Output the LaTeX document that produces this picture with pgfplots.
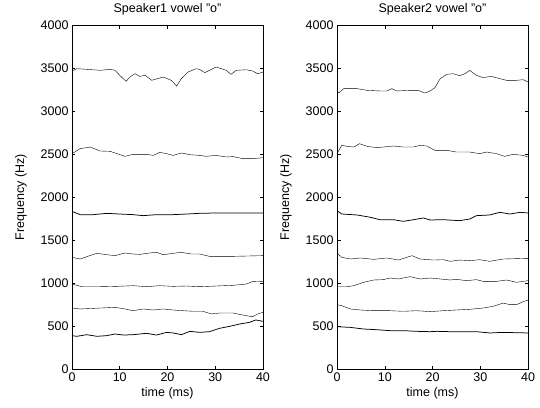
\documentclass[border=0pt]{standalone}
\usepackage{pgfplots}
\pgfplotsset{compat=1.18}
\usepackage{fontspec}
\setmainfont{Liberation Sans}

\pgfplotsset{
  formant/.style={
    scale only axis, width=191pt, height=344pt,
    xmin=0, xmax=40, ymin=0, ymax=4000,
    xtick={0,10,20,30,40}, ytick={0,500,...,4000},
    tick align=inside, major tick length=3.5pt,
    tick style={black, line width=0.5pt},
    axis line style={line width=0.7pt},
    /pgf/number format/assume math mode=true,
    /pgf/number format/set thousands separator={},
    tick label style={font=\fontsize{12.5}{14}\selectfont},
    label style={font=\fontsize{12.5}{14}\selectfont},
    title style={font=\fontsize{12.5}{14}\selectfont, yshift=0pt},
    xlabel={time (ms)}, ylabel={Frequency (Hz)},
    xlabel style={yshift=1pt},
    ylabel style={yshift=7pt},
    cycle list={{black, solid, line width=0.75pt, mark=none}},
  }
}

\begin{document}
\begin{tikzpicture}
\path (-72pt,-38pt) rectangle (468pt,369pt);
\begin{axis}[formant, at={(0pt,0pt)}, anchor=south west,
  title={Speaker1 vowel "o"}]
\addplot coordinates {(0,3465) (1,3492) (3,3485) (6,3473) (8,3485) (9,3473) (10,3415) (11.3,3345) (12.3,3403) (13.2,3434) (14.2,3403) (15.3,3415) (16.7,3357) (19.1,3395) (20.8,3357) (21.9,3290) (22.9,3376) (24.3,3453) (26,3492) (26.7,3485) (27.8,3446) (28.8,3473) (30.2,3512) (31.3,3492) (32.3,3473) (33.3,3426) (34.4,3473) (36.5,3480) (37.8,3465) (38.9,3434) (40,3453)};
\addplot coordinates {(0,2504) (1.7,2562) (3.8,2581) (5.9,2535) (8,2531) (9.4,2504) (11.1,2473) (12.8,2496) (15.6,2496) (17,2484) (18.4,2519) (19.8,2504) (21.2,2484) (22.9,2512) (24.7,2492) (26.7,2484) (28.1,2473) (30.2,2484) (32.3,2465) (33.7,2470) (35.8,2446) (37.8,2446) (40,2457)};
\addplot coordinates {(0,1833) (1.7,1795) (4.5,1795) (7.3,1810) (10,1802) (12.8,1795) (14.9,1783) (17.7,1795) (21.2,1795) (24,1802) (26.7,1810) (30,1814) (40,1814)};
\addplot coordinates {(0,1298) (1.7,1279) (3.1,1306) (5.2,1345) (7.3,1329) (9,1318) (11.1,1349) (12.8,1337) (14.2,1333) (16.3,1349) (17.7,1357) (19.1,1329) (21.2,1345) (22.9,1357) (25,1337) (26.7,1337) (28.8,1310) (33.7,1310) (40,1318)};
\addplot coordinates {(0,988) (2.1,957) (6,957) (9.4,961) (12.8,969) (15.6,957) (18.4,969) (21.2,961) (24,965) (26.7,957) (30.2,965) (33.7,973) (36.5,988) (37.8,1016) (40,1019)};
\addplot coordinates {(0,709) (1.7,698) (6,709) (9,717) (11.1,698) (12.8,678) (14.9,698) (17,686) (19.1,698) (21.2,686) (23.3,678) (25.4,671) (27.4,671) (29.2,640) (30.9,651) (33.7,651) (36.5,620) (37.8,608) (38.9,640) (40,659)};
\addplot coordinates {(0,388) (1,380) (3.1,399) (5.2,380) (7.3,388) (9,407) (10.8,395) (12.8,399) (15.6,415) (17.7,395) (19.8,426) (21.2,419) (22.9,399) (24.7,438) (26.7,426) (28.8,434) (30.9,473) (33,496) (35.1,523) (37.2,543) (38.5,570) (40,554)};
\end{axis}
\begin{axis}[formant, at={(265pt,0pt)}, anchor=south west,
  title={Speaker2 vowel "o"}]
\addplot coordinates {(0,3240) (0.35,3209) (1.4,3260) (4.2,3260) (6.3,3240) (9,3233) (10.4,3233) (11.5,3260) (12.5,3233) (15.3,3240) (17,3240) (18.4,3209) (19.5,3233) (20.5,3271) (21.6,3376) (23,3426) (24.3,3434) (25.7,3411) (26.8,3434) (27.8,3473) (29.2,3415) (30.6,3388) (32.3,3403) (34.1,3376) (35.5,3357) (37.6,3357) (39,3364) (40,3337)};
\addplot coordinates {(0,2504) (1,2601) (2.1,2589) (3.5,2581) (4.7,2620) (6.3,2589) (8.3,2574) (9.7,2581) (11.8,2593) (13.9,2581) (16,2581) (17.4,2601) (18.8,2593) (20.5,2543) (23,2543) (25,2523) (27.8,2523) (29.9,2504) (31.3,2523) (33.4,2504) (35.1,2473) (36.9,2496) (39,2484) (40,2465)};
\addplot coordinates {(0,1841) (1,1802) (4.2,1791) (7,1764) (9,1736) (11.8,1736) (13.9,1717) (16,1736) (18.1,1756) (19.5,1733) (22.3,1736) (25.7,1725) (27.8,1744) (29.2,1783) (32,1791) (34.1,1822) (36.2,1802) (38.3,1822) (40,1814)};
\addplot coordinates {(0,1349) (1,1298) (2.8,1279) (4.9,1291) (7.7,1275) (10.4,1291) (12.9,1267) (14.6,1298) (15.7,1318) (17.4,1279) (20.2,1267) (22.3,1271) (23.7,1252) (25.7,1267) (27.8,1260) (29.9,1271) (32,1252) (34.8,1279) (40,1287)};
\addplot coordinates {(0,957) (2.1,957) (3.5,969) (5.6,1008) (7.7,1035) (9.7,1039) (11.1,1058) (12.9,1047) (15.3,1074) (17.4,1047) (19.5,1058) (21.6,1047) (23.7,1035) (25,1043) (27.1,1027) (29.2,1039) (30.6,1019) (33.4,1019) (35.5,1035) (37.6,1008) (39,1019) (40,1027)};
\addplot coordinates {(0,748) (1,736) (2.8,698) (4.9,686) (7.7,678) (11.1,678) (13.9,671) (16.7,678) (19.5,667) (22.3,678) (25,686) (27.8,694) (30.6,709) (32.7,729) (34.8,767) (36.2,748) (37.6,748) (39,783) (40,802)};
\addplot coordinates {(0,492) (2.8,484) (5.6,465) (8.3,457) (11.1,446) (13.9,446) (16.7,438) (19.5,434) (20.9,438) (23.7,434) (26.4,434) (29.2,434) (32,419) (34.8,426) (37.6,422) (40,419)};
\end{axis}
\end{tikzpicture}
\end{document}
